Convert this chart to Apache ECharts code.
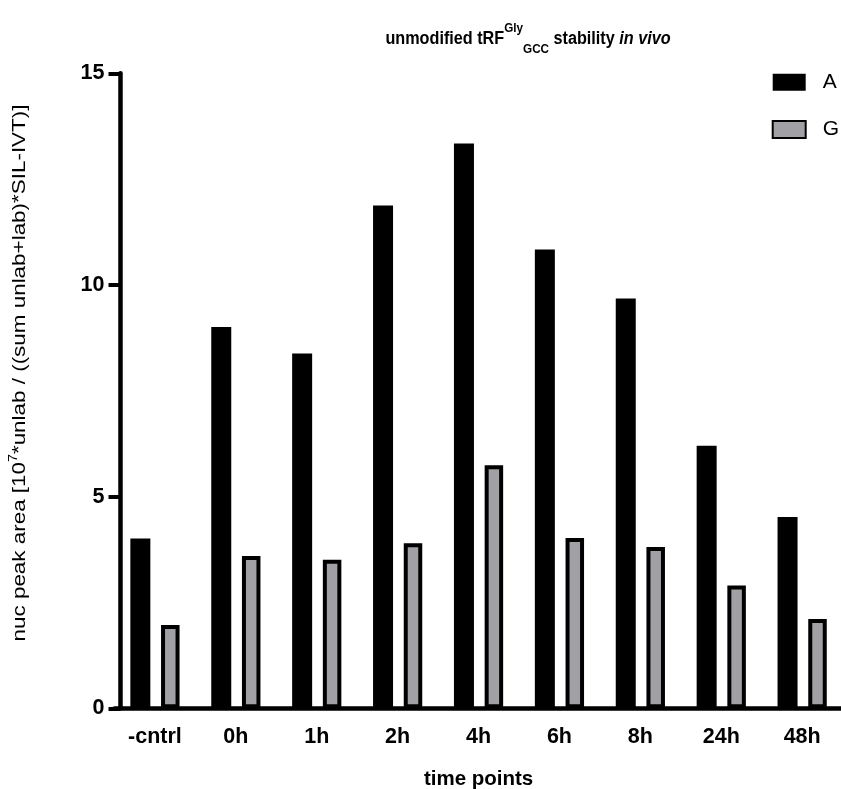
<!DOCTYPE html>
<html>
<head>
<meta charset="utf-8">
<title>unmodified tRF stability in vivo</title>
<script src="https://cdn.jsdelivr.net/npm/echarts@6/dist/echarts.min.js"></script>
<style>
  html, body { margin: 0; padding: 0; background: #fff; }
  #chart { width: 841px; height: 789px; }
</style>
</head>
<body>
<div id="chart"></div>
<script>
// Time points sampled after transfection
const categories = ['-cntrl', '0h', '1h', '2h', '4h', '6h', '8h', '24h', '48h'];
// Normalised nucleoside peak areas per nucleoside
const seriesA = [4.01, 9.01, 8.38, 11.88, 13.34, 10.84, 9.68, 6.20, 4.52];
const seriesG = [1.97, 3.60, 3.51, 3.90, 5.74, 4.02, 3.81, 2.90, 2.11];
const seriesNames = ['A', 'G'];
const yTicks = { min: 0, max: 15, interval: 5 };

const FONT = '"Liberation Sans", Arial, Helvetica, sans-serif';

const chart = echarts.init(document.getElementById('chart'), null, { renderer: 'canvas' });

chart.setOption({
  animation: false,
  backgroundColor: '#ffffff',
  grid: {
    left: 114.5, right: -1.6, top: 73.3, bottom: 80.7,
    containLabel: false,
    outerBoundsMode: 'none'
  },
  legend: {
    data: seriesNames,
    orient: 'vertical',
    left: 771.7,
    top: 71.7,
    padding: 0,
    icon: 'rect',
    itemWidth: 33,
    itemHeight: 17,
    itemGap: 26.3,
    textStyle: { fontFamily: FONT, fontSize: 21, color: '#000', lineHeight: 17, padding: [0, 0, 0, 12] }
  },
  xAxis: {
    type: 'category',
    data: categories,
    axisLine: { lineStyle: { color: '#000', width: 4.5 } },
    axisTick: { alignWithLabel: true, length: 12, lineStyle: { color: '#000', width: 4 } },
    axisLabel: { fontFamily: FONT, fontSize: 21.5, fontWeight: 'bold', color: '#000', margin: 18 },
    name: 'time points',
    nameLocation: 'middle',
    nameGap: 61,
    nameTextStyle: { fontFamily: FONT, fontSize: 20.5, fontWeight: 'bold', color: '#000' }
  },
  yAxis: {
    type: 'value',
    min: yTicks.min,
    max: yTicks.max,
    interval: yTicks.interval,
    offset: -6,
    splitLine: { show: false },
    axisLine: { show: true, lineStyle: { color: '#000', width: 4.5 } },
    axisTick: { show: true, length: 12, lineStyle: { color: '#000', width: 4 } },
    axisLabel: { fontFamily: FONT, fontSize: 21.5, fontWeight: 'bold', color: '#000', margin: 16 }
  },
  series: [
    {
      name: seriesNames[0],
      type: 'bar',
      data: seriesA,
      barWidth: 20,
      barGap: '53.5%',
      itemStyle: { color: '#000000' }
    },
    {
      name: seriesNames[1],
      type: 'bar',
      data: seriesG,
      barWidth: 18.5,
      barGap: '53.5%',
      itemStyle: { color: '#a1a1a5', borderColor: '#000000', borderWidth: 4 }
    }
  ],
  graphic: [
    {
      type: 'text',
      x: 528,
      y: 39,
      scaleX: 0.9,
      style: {
        text: '{m|unmodified tRF}{sup|Gly}{sub|GCC}{m| stability }{it|in vivo}',
        align: 'center',
        verticalAlign: 'middle',
        fill: '#000',
        rich: {
          m: { fontFamily: FONT, fontSize: 18, fontWeight: 'bold', fill: '#000', lineHeight: 34, verticalAlign: 'middle' },
          it: { fontFamily: FONT, fontSize: 18, fontWeight: 'bold', fontStyle: 'italic', fill: '#000', lineHeight: 34, verticalAlign: 'middle' },
          sup: { fontFamily: FONT, fontSize: 13, fontWeight: 'bold', fill: '#000', lineHeight: 34, verticalAlign: 'top' },
          sub: { fontFamily: FONT, fontSize: 13, fontWeight: 'bold', fill: '#000', lineHeight: 34, verticalAlign: 'bottom' }
        }
      }
    },
    {
      type: 'text',
      x: 20,
      y: 373,
      rotation: Math.PI / 2,
      scaleX: 1.18,
      style: {
        text: '{n|nuc peak area [10}{sup|7}{n|*unlab / ((sum unlab+lab)*SIL-IVT)]}',
        align: 'center',
        verticalAlign: 'middle',
        fill: '#000',
        rich: {
          n: { fontFamily: FONT, fontSize: 19, fill: '#000', lineHeight: 24, verticalAlign: 'middle' },
          sup: { fontFamily: FONT, fontSize: 12, fill: '#000', lineHeight: 24, verticalAlign: 'top' }
        }
      }
    }
  ]
});
</script>
</body>
</html>
